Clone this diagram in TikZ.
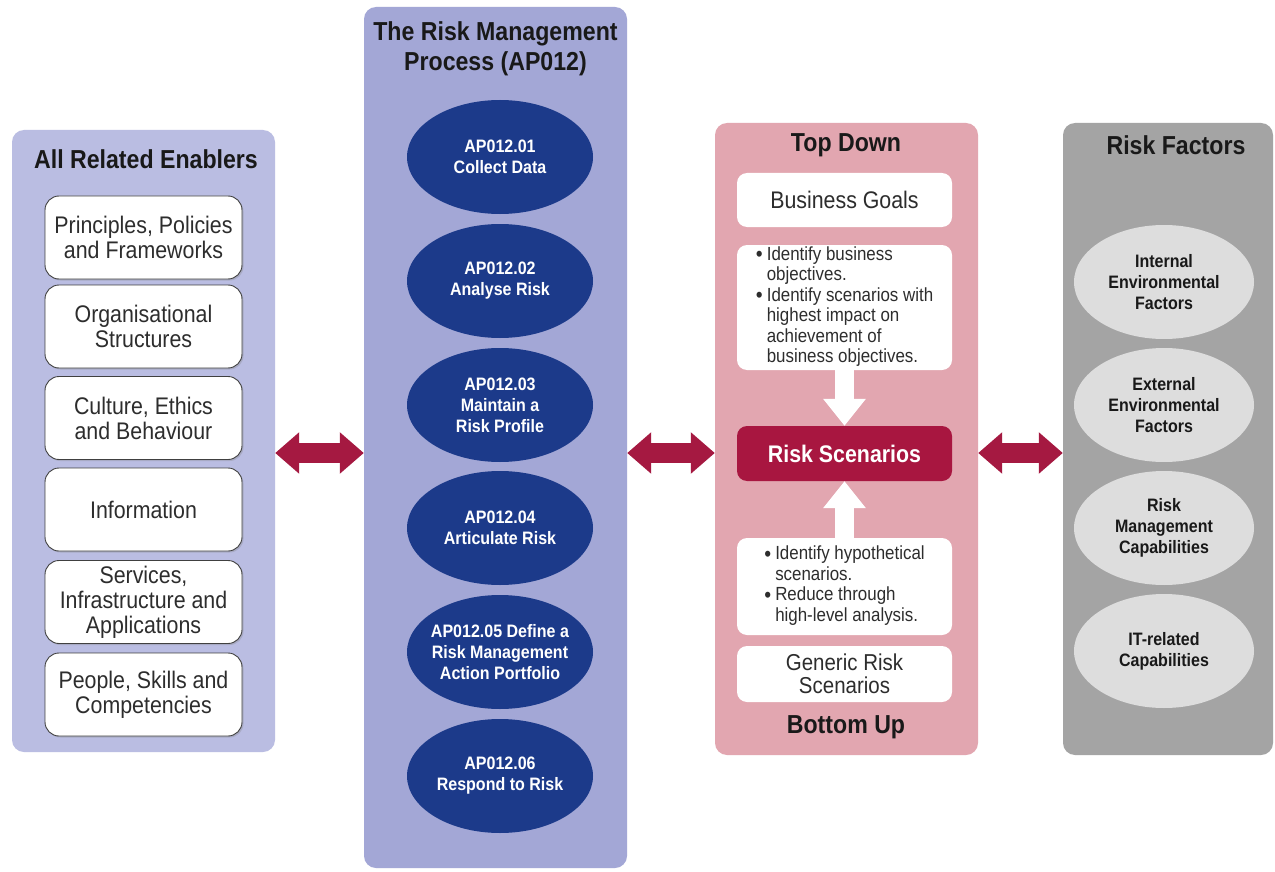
\documentclass[tikz,border=0pt]{standalone}
\usepackage{fontspec}
\setmainfont{Liberation Sans}[FakeStretch=0.89]
\usetikzlibrary{arrows.meta,shapes.geometric,shadows}
\definecolor{leftc}{RGB}{186,189,226}
\definecolor{midc}{RGB}{163,167,214}
\definecolor{blueE}{RGB}{28,58,138}
\definecolor{pinkc}{RGB}{226,166,176}
\definecolor{crim}{RGB}{168,22,64}
\definecolor{arrc}{RGB}{165,25,65}
\definecolor{grayc}{RGB}{164,164,164}
\definecolor{grayE}{RGB}{221,221,221}
\definecolor{txt}{RGB}{45,45,45}
\begin{document}
\begin{tikzpicture}[x=1pt,y=-1pt,
  panel/.style={rounded corners=12pt, inner sep=0pt},
  ptitle/.style={font=\bfseries\fontsize{26}{30}\selectfont, text=black!90, align=center, inner sep=0pt},
  ebox/.style={draw=black!75, line width=0.9pt, fill=white, rounded corners=14pt,
    minimum width=197, minimum height=83, align=center, inner sep=0pt,
    font=\fontsize{24}{25}\selectfont, text=txt,
    drop shadow={shadow xshift=1.5pt, shadow yshift=-1.5pt, opacity=0.3}},
  bell/.style={ellipse, fill=blueE, minimum width=186, minimum height=114, inner sep=0pt},
  btext/.style={align=center, text=white, inner sep=0pt, font=\bfseries\fontsize{18}{21}\selectfont},
  gell/.style={ellipse, fill=grayE, minimum width=180, minimum height=114, inner sep=0pt},
  gtext/.style={align=center, text=black!90, inner sep=0pt, font=\bfseries\fontsize{18}{21}\selectfont},
  pbox/.style={fill=white, rounded corners=10pt, minimum width=215, inner sep=0pt,
    align=center, text=txt, font=\fontsize{24}{24}\selectfont},
  lbox/.style={fill=white, rounded corners=10pt, minimum width=215, inner sep=0pt,
    align=left, text=txt, font=\fontsize{19}{20.5}\selectfont},
  dbl/.style={draw=arrc, line width=20pt,
    {Triangle[length=24pt,width=40pt]}-{Triangle[length=24pt,width=40pt]}},
  warr/.style={draw=white, line width=19pt, -{Triangle[length=27pt,width=41pt]}}
]
\useasboundingbox (0,0) rectangle (1275,872);
\fill[white] (0,0) rectangle (1275,872);
\newcommand{\bul}{\raisebox{-1.2pt}{\fontsize{22}{20}\selectfont\textbullet}}

% panels
\node[panel, fill=leftc, minimum width=263, minimum height=622] (lp) at (143.5,441) {};
\node[panel, fill=midc, minimum width=263, minimum height=861] (mp) at (495.5,437.5) {};
\node[panel, fill=pinkc, minimum width=263, minimum height=632] (pp) at (846.5,439) {};
\node[panel, fill=grayc, minimum width=210, minimum height=632] (gp) at (1168,439) {};

% titles
\node[ptitle] (lt) at (146,159) {All Related Enablers};
\node[ptitle] (mt) at (495.5,49) {The Risk Management\\Process (AP012)};
\node[ptitle] (pt) at (846,145) {Top Down};
\node[ptitle] (pb) at (846,727) {Bottom Up};
\node[ptitle] (gt) at (1176,145) {Risk Factors};

% left boxes
\node[ebox] (e1) at (143.5,237.5) {Principles, Policies\\and Frameworks};
\node[ebox] (e2) at (143.5,326.5) {Organisational\\Structures};
\node[ebox] (e3) at (143.5,418) {Culture, Ethics\\and Behaviour};
\node[ebox] (e4) at (143.5,509.5) {Information};
\node[ebox] (e5) at (143.5,602) {Services,\\Infrastructure and\\Applications};
\node[ebox] (e6) at (143.5,694.5) {People, Skills and\\Competencies};

% process ellipses
\node[bell] (a1) at (500,157) {};
\node[bell] (a2) at (500,281) {};
\node[bell] (a3) at (500,405) {};
\node[bell] (a4) at (500,528) {};
\node[bell] (a5) at (500,652) {};
\node[bell] (a6) at (500,776) {};
\node[btext] (a1t) at (a1) {AP012.01\\Collect Data};
\node[btext] (a2t) at (a2) {AP012.02\\Analyse Risk};
\node[btext] (a3t) at (a3) {AP012.03\\Maintain a\\Risk Profile};
\node[btext] (a4t) at (a4) {AP012.04\\Articulate Risk};
\node[btext] (a5t) at (a5) {AP012.05 Define a\\Risk Management\\Action Portfolio};
\node[btext] (a6t) at (a6) {AP012.06\\Respond to Risk};

% pink column
\node[pbox, minimum height=54] (bg) at (844.5,200) {Business Goals};
\node[lbox, minimum height=125] (l1) at (844.5,307.5) {%
  \begin{tabular}{@{}p{11pt}@{}l@{}}
  \bul & Identify business\\
  & objectives.\\
  \bul & Identify scenarios with\\
  & highest impact on\\
  & achievement of\\
  & business objectives.
  \end{tabular}};
\node[fill=crim, rounded corners=10pt, minimum width=215, minimum height=55, inner sep=0pt,
  text=white, font=\bfseries\fontsize{24}{24}\selectfont] (rs) at (844.5,453.5) {Risk Scenarios};
\node[lbox, minimum height=97] (l2) at (844.5,586.5) {%
  \begin{tabular}{@{}p{11pt}@{}l@{}}
  \bul & Identify hypothetical\\
  & scenarios.\\
  \bul & Reduce through\\
  & high-level analysis.
  \end{tabular}};
\node[pbox, minimum height=56, font=\fontsize{23}{23.5}\selectfont] (gr) at (844.5,674) {Generic Risk\\Scenarios};

\draw[warr] (l1.south) -- (rs.north);
\draw[warr] (l2.north) -- (rs.south);

% risk factors
\node[gell] (f1) at (1164,282) {};
\node[gell] (f2) at (1164,405) {};
\node[gell] (f3) at (1164,528) {};
\node[gell] (f4) at (1164,651) {};
\node[gtext] (f1t) at (f1) {Internal\\Environmental\\Factors};
\node[gtext] (f2t) at (f2) {External\\Environmental\\Factors};
\node[gtext] (f3t) at (f3) {Risk\\Management\\Capabilities};
\node[gtext] (f4t) at (f4) {IT-related\\Capabilities};

% double arrows between panels
\coordinate (ya) at (0,453);
\draw[dbl] (lp.east |- ya) -- (mp.west |- ya);
\draw[dbl] (mp.east |- ya) -- (pp.west |- ya);
\draw[dbl] (pp.east |- ya) -- (gp.west |- ya);
\end{tikzpicture}
\end{document}
